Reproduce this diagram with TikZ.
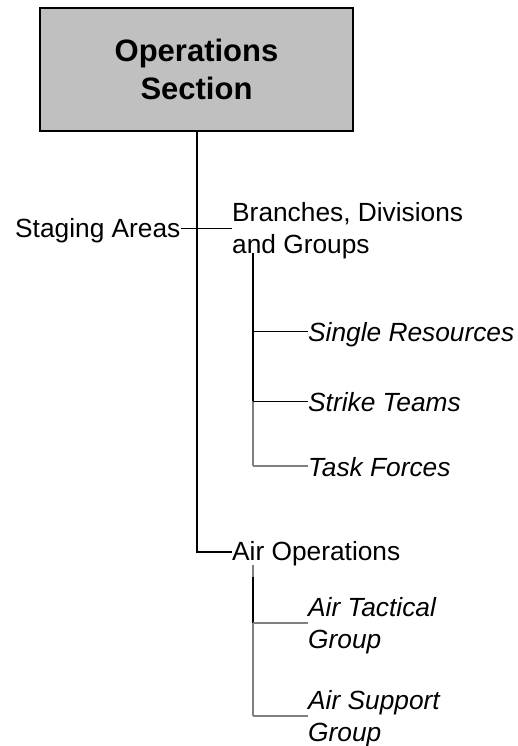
\documentclass[tikz,border=0pt]{standalone}
\usepackage{fontspec}
\setmainfont{Liberation Sans}
\definecolor{boxgray}{HTML}{C0C0C0}
\definecolor{linegray}{HTML}{808080}
\begin{document}
\begin{tikzpicture}[x=1pt,y=-1pt,
  lbl/.style={inner sep=0pt, anchor=base west, align=left, font=\fontsize{26.3}{32}\selectfont},
  ilbl/.style={lbl, font=\fontsize{26.3}{32}\selectfont\itshape},
  titlebox/.style={draw=black, line width=1.5pt, fill=boxgray, minimum width=313pt, minimum height=123pt,
    inner sep=0pt, align=center, font=\fontsize{31}{38}\selectfont\bfseries},
  heavy/.style={line width=2pt, draw=black},
  thinb/.style={line width=1pt, draw=black},
  thing/.style={line width=1.2pt, draw=linegray},
]
\useasboundingbox (0,0) rectangle (518,746);

\node[titlebox] (ops) at (196.5,69.5) {Operations\\Section};

\node[lbl] (stag) at (15,237.4) {Staging Areas};
\node[lbl] (bdg) at (232,253.4) {Branches, Divisions\\and Groups};
\node[ilbl] (single) at (308,341.4) {Single Resources};
\node[ilbl] (strike) at (308,411.4) {Strike Teams};
\node[ilbl] (task) at (308,476.4) {Task Forces};
\node[lbl] (airops) at (232,560.4) {Air Operations};
\node[ilbl] (atg) at (308,648.4) {Air Tactical\\Group};
\node[ilbl] (asg) at (308,741.4) {Air Support\\Group};

% junction coordinates
\coordinate (jS) at (197,228);
\coordinate (jA) at (197,552);
\coordinate (bTop) at (253,253);
\coordinate (bS) at (253,331);
\coordinate (bT) at (253,401);
\coordinate (bF) at (253,466);
\coordinate (aTop) at (253,565);
\coordinate (aMid) at (253,577);
\coordinate (aT) at (253,623);
\coordinate (aS) at (253,716);

% main trunk
\draw[heavy] (ops.south -| jA) -- (jA) -- (jA -| airops.west);
% staging / branches cross line
\draw[thinb] (stag.east |- jS) -- (jS -| bdg.west);

% branches subtree
\draw[heavy] (bTop) -- (bT);
\draw[thing] (bT) -- (bF);
\draw[thinb] (bS) -- (bS -| single.west);
\draw[thinb] (bT) -- (bT -| strike.west);
\draw[thing] (bF) -- (bF -| task.west);

% air operations subtree
\draw[thing] (aTop) -- (aMid);
\draw[heavy] (aMid) -- (aT);
\draw[thing] (aT) -- (aS);
\draw[thing] (aT) -- (aT -| atg.west);
\draw[thing] (aS) -- (aS -| asg.west);
\end{tikzpicture}
\end{document}
